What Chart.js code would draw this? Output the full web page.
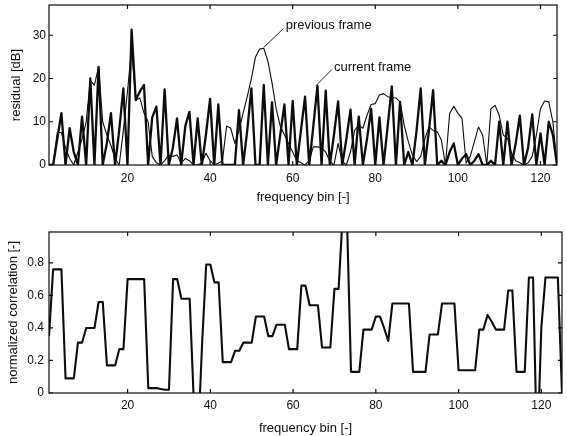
<!DOCTYPE html>
<html>
<head>
<meta charset="utf-8">
<script src="https://cdn.jsdelivr.net/npm/chart.js@4/dist/chart.umd.min.js"></script>
<style>
  body { margin: 0; background: #fff; }
  .panel { position: absolute; left: 0; }
</style>
</head>
<body>
<div class="panel" style="top:0"><canvas id="residualChart" width="567" height="215"></canvas></div>
<div class="panel" style="top:215px"><canvas id="corrChart" width="567" height="221"></canvas></div>
<script>
// frequency bins 1..125 (top panel shows 1..124)
const bins = [];
for (let i = 1; i <= 125; i++) bins.push(i);

const binTicks = [20, 40, 60, 80, 100, 120];
const residualTicks = [0, 10, 20, 30];
const corrTicks = [0, 0.2, 0.4, 0.6, 0.8];

// residual [dB], current frame (thick)
const currentFrame = [
  0, 0, 6, 12, 0, 8.5, 3, 0, 11.2, 0,
  20, 0, 22.7, 0, 5, 12, 0, 8, 17.7, 0,
  31.3, 15, 17, 18.5, 0, 11, 13.5, 0, 17.5, 0,
  4, 10.8, 0, 9, 12.3, 0, 10.8, 0, 7, 15.3,
  0, 14, 0, 0, 0, 0, 12.7, 0, 8, 17.7,
  0, 0, 18.5, 0, 14.5, 0, 7, 14, 0, 14.8,
  0, 8, 15.8, 0, 9, 18.3, 0, 17.2, 0, 7,
  14.7, 0, 6, 12.8, 0, 11.2, 0, 6, 13, 0,
  11, 0, 9, 18.2, 0, 14.6, 0, 3, 0, 8,
  17.7, 0, 8, 17.3, 0, 1, 0, 3, 5, 0,
  1.5, 2.5, 0, 1, 2.5, 0, 0, 1, 0, 10,
  0, 10, 0, 5, 11.4, 0, 4, 11.7, 0, 7.3,
  0, 10, 7, 0
];

// residual [dB], previous frame (thin)
const previousFrame = [
  0, 0, 7.5, 7.5, 4, 1.5, 0, 3, 6, 10,
  19.5, 18.5, 22.7, 10, 7, 4.5, 1.5, 0, 8, 17,
  27, 15, 15.5, 12, 10, 2, 0.5, 0, 1, 2.3,
  2, 2.3, 0.5, 1.5, 1, 0, 0, 0.5, 2.7, 1,
  0, 0.4, 1, 9, 8.5, 5, 8, 12, 15.8, 20,
  25, 26.8, 27, 24, 19, 13, 9, 7, 5, 3,
  1, 0.5, 0, 1, 4.2, 4.2, 4, 3, 0.8, 0,
  5, 0.8, 0, 3, 8, 9.2, 8.5, 11.5, 14, 14.2,
  16.2, 16.5, 15.8, 15.6, 15.5, 14.6, 9.2, 5.4, 2.3, 0.8,
  2, 6, 8.8, 8, 7.7, 5.8, 0, 11.9, 13.6, 12,
  10.8, 0.5, 2, 5.4, 8.8, 6.9, 0, 13, 13.8, 11.5,
  6.9, 6.2, 2.7, 1, 0.5, 0, 0.5, 2, 6.9, 13,
  14.8, 14.6, 10, 0
];

// normalized correlation [-]
const correlation = [
  0.35, 0.76, 0.76, 0.76, 0.09, 0.09, 0.09, 0.31, 0.31, 0.40,
  0.40, 0.40, 0.56, 0.56, 0.17, 0.17, 0.17, 0.27, 0.27, 0.70,
  0.70, 0.70, 0.70, 0.70, 0.03, 0.03, 0.03, 0.025, 0.02, 0.02,
  0.70, 0.70, 0.58, 0.58, 0.58, -0.05, -0.3, 0.3, 0.79, 0.79,
  0.68, 0.68, 0.19, 0.19, 0.19, 0.26, 0.26, 0.31, 0.31, 0.31,
  0.47, 0.47, 0.47, 0.35, 0.35, 0.42, 0.42, 0.42, 0.27, 0.27,
  0.27, 0.66, 0.66, 0.54, 0.54, 0.54, 0.28, 0.28, 0.28, 0.64,
  0.64, 1.1, 1.1, 0.13, 0.13, 0.13, 0.39, 0.39, 0.39, 0.47,
  0.47, 0.40, 0.32, 0.55, 0.55, 0.55, 0.55, 0.55, 0.13, 0.13,
  0.13, 0.13, 0.36, 0.36, 0.36, 0.55, 0.55, 0.55, 0.55, 0.14,
  0.14, 0.14, 0.14, 0.14, 0.39, 0.39, 0.48, 0.44, 0.39, 0.39,
  0.39, 0.63, 0.63, 0.13, 0.13, 0.13, 0.71, 0.71, -0.4, 0.4,
  0.71, 0.71, 0.71, 0.71, 0
];

// text labels with leader lines, in data coordinates
const residualNotes = [
  { text: 'previous frame', at: [58.3, 32.2], from: [57.7, 31.5], to: [53.0, 27.2] },
  { text: 'current frame', at: [70.0, 22.6], from: [69.5, 22.1], to: [65.7, 18.4] }
];

const ink = '#0d0d0d';
const fontFamily = '"Liberation Sans", Arial, sans-serif';
Chart.defaults.font.family = fontFamily;
Chart.defaults.font.size = 12;
Chart.defaults.color = ink;

// matlab style: box round the axes, ticks pointing inwards
const boxPlugin = {
  id: 'box',
  afterDatasetsDraw(chart) {
    const { ctx, chartArea: a, scales: { x, y } } = chart;
    ctx.save();
    ctx.strokeStyle = ink;
    ctx.lineWidth = 1.2;
    ctx.strokeRect(a.left, a.top, a.right - a.left, a.bottom - a.top);
    ctx.beginPath();
    x.ticks.forEach(t => {
      const px = x.getPixelForValue(t.value);
      ctx.moveTo(px, a.bottom); ctx.lineTo(px, a.bottom - 4);
      ctx.moveTo(px, a.top); ctx.lineTo(px, a.top + 4);
    });
    y.ticks.forEach(t => {
      const py = y.getPixelForValue(t.value);
      ctx.moveTo(a.left, py); ctx.lineTo(a.left + 4, py);
      ctx.moveTo(a.right, py); ctx.lineTo(a.right - 4, py);
    });
    ctx.stroke();
    ctx.restore();
  }
};

const notesPlugin = {
  id: 'notes',
  afterDraw(chart, args, opts) {
    const { ctx, scales: { x, y } } = chart;
    ctx.save();
    ctx.fillStyle = ink;
    ctx.strokeStyle = ink;
    ctx.lineWidth = 0.9;
    ctx.textAlign = 'left';
    ctx.textBaseline = 'middle';
    ctx.font = '13px ' + fontFamily;
    (opts.items || []).forEach(n => {
      ctx.beginPath();
      ctx.moveTo(x.getPixelForValue(n.from[0]), y.getPixelForValue(n.from[1]));
      ctx.lineTo(x.getPixelForValue(n.to[0]), y.getPixelForValue(n.to[1]));
      ctx.stroke();
      ctx.fillText(n.text, x.getPixelForValue(n.at[0]), y.getPixelForValue(n.at[1]));
    });
    ctx.restore();
  }
};

function fixedTicks(values) {
  return scale => { scale.ticks = values.map(v => ({ value: v })); };
}

function fixedSize(size) {
  return scale => {
    if (scale.isHorizontal()) scale.height = size; else scale.width = size;
    scale.paddingTop = 0; scale.paddingBottom = 0;
    scale.paddingLeft = 0; scale.paddingRight = 0;
  };
}

function makePanel(id, cfg) {
  return new Chart(document.getElementById(id), {
    type: 'line',
    data: { labels: cfg.labels, datasets: cfg.datasets },
    options: {
      responsive: false,
      animation: false,
      devicePixelRatio: 1,
      events: [],
      layout: { padding: cfg.padding },
      elements: {
        point: { radius: 0 },
        line: { tension: 0, borderJoinStyle: 'round', borderColor: ink }
      },
      plugins: {
        legend: { display: false },
        tooltip: { enabled: false },
        notes: { items: cfg.notes || [] }
      },
      scales: {
        x: {
          type: 'linear',
          min: 1,
          max: cfg.xMax,
          grid: { display: false, drawTicks: false },
          border: { display: false },
          afterBuildTicks: fixedTicks(binTicks),
          afterFit: fixedSize(cfg.xHeight),
          ticks: { padding: cfg.xTickPad, maxRotation: 0 },
          title: {
            display: true, text: 'frequency bin [-]',
            font: { size: 13 }, padding: { top: 0, bottom: cfg.xTitlePad }
          }
        },
        y: {
          min: 0,
          max: cfg.yMax,
          grid: { display: false, drawTicks: false },
          border: { display: false },
          afterBuildTicks: fixedTicks(cfg.yTicks),
          afterFit: fixedSize(49),
          ticks: { padding: cfg.yTickPad },
          title: {
            display: true, text: cfg.yTitle,
            font: { size: 13 }, padding: { top: cfg.yTitlePad, bottom: 0 }
          }
        }
      }
    },
    plugins: [boxPlugin, notesPlugin]
  });
}

makePanel('residualChart', {
  labels: bins.slice(0, currentFrame.length),
  datasets: [
    { label: 'previous frame', data: previousFrame, borderWidth: 1.1 },
    { label: 'current frame', data: currentFrame, borderWidth: 2.3 }
  ],
  notes: residualNotes,
  padding: { top: 5, right: 10, bottom: 0, left: 0 },
  xMax: 124,
  xHeight: 50,
  xTickPad: 6,
  xTitlePad: 10,
  yMax: 37,
  yTicks: residualTicks,
  yTickPad: 3,
  yTitle: 'residual [dB]',
  yTitlePad: 9
});

makePanel('corrChart', {
  labels: bins,
  datasets: [
    { label: 'normalized correlation', data: correlation, borderWidth: 2.1 }
  ],
  padding: { top: 17, right: 5, bottom: 0, left: 0 },
  xMax: 125,
  xHeight: 43,
  xTickPad: 5,
  xTitlePad: 0,
  yMax: 0.99,
  yTicks: corrTicks,
  yTickPad: 5,
  yTitle: 'normalized correlation [-]',
  yTitlePad: 6
});
</script>
</body>
</html>
